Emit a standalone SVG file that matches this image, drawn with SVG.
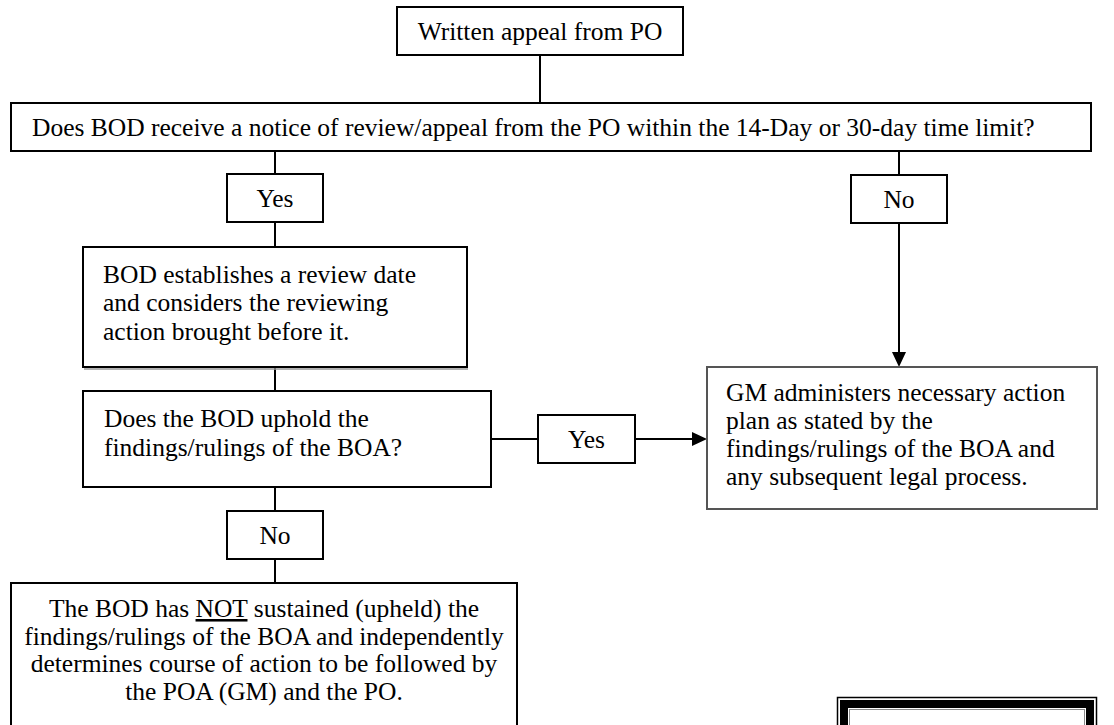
<svg xmlns="http://www.w3.org/2000/svg" width="1114" height="725" viewBox="0 0 1114 725">
<defs>
<style>
.box{fill:#fff;stroke:#000;stroke-width:2}
.gbox{fill:#fff;stroke:#555;stroke-width:2}
.t{font-family:"Liberation Serif","Times New Roman",serif;font-size:25.5px;fill:#000}
.c{text-anchor:middle}
.ln{stroke:#000;stroke-width:2;fill:none}
</style>
</defs>
<rect width="1114" height="725" fill="#fff"/>
<g id="connectors">
<line class="ln" x1="540" y1="55" x2="540" y2="103"/>
<line class="ln" x1="275" y1="151" x2="275" y2="174"/>
<line class="ln" x1="275" y1="222" x2="275" y2="247"/>
<line class="ln" x1="275" y1="367" x2="275" y2="391"/>
<line class="ln" x1="275" y1="487" x2="275" y2="511"/>
<line class="ln" x1="275" y1="559" x2="275" y2="583"/>
<line class="ln" x1="491" y1="439" x2="538" y2="439"/>
<path class="ln" d="M635,439 H692"/>
<path d="M692,432 L707,439 L692,446 z" fill="#000"/>
<line class="ln" x1="899" y1="151" x2="899" y2="175"/>
<path class="ln" d="M899,223 V352"/>
<path d="M892,352 L899,367 L906,352 z" fill="#000"/>
</g>
<g id="n-written">
<rect class="box" x="397" y="7" width="286" height="48"/>
<text class="t c" x="540" y="40">Written appeal from PO</text>
</g>
<g id="n-question">
<rect class="box" x="11" y="103" width="1080" height="48"/>
<text class="t" x="32" y="136">Does BOD receive a notice of review/appeal from the PO within the 14-Day or 30-day time limit?</text>
</g>
<g id="n-yes1">
<rect class="box" x="227" y="174" width="96" height="48"/>
<text class="t c" x="275" y="207">Yes</text>
</g>
<g id="n-no1">
<rect class="box" x="851" y="175" width="96" height="48"/>
<text class="t c" x="899" y="208">No</text>
</g>
<g id="n-bod">
<line x1="84" y1="369" x2="468" y2="369" stroke="#999" stroke-width="1.5"/>
<rect class="box" x="83" y="247" width="384" height="120"/>
<text class="t" x="103" y="283">BOD establishes a review date</text>
<text class="t" x="103" y="311">and considers the reviewing</text>
<text class="t" x="103" y="340">action brought before it.</text>
</g>
<g id="n-uphold">
<rect class="box" x="83" y="391" width="408" height="96"/>
<text class="t" x="104" y="427">Does the BOD uphold the</text>
<text class="t" x="104" y="456">findings/rulings of the BOA?</text>
</g>
<g id="n-yes2">
<rect class="box" x="538" y="415" width="97" height="48"/>
<text class="t c" x="586.5" y="448">Yes</text>
</g>
<g id="n-gm">
<rect class="gbox" x="707" y="367" width="390" height="142"/>
<text class="t" x="726" y="401">GM administers necessary action</text>
<text class="t" x="726" y="429">plan as stated by the</text>
<text class="t" x="726" y="457">findings/rulings of the BOA and</text>
<text class="t" x="726" y="485">any subsequent legal process.</text>
</g>
<g id="n-no2">
<rect class="box" x="227" y="511" width="96" height="48"/>
<text class="t c" x="275" y="544">No</text>
</g>
<g id="n-notsustained">
<rect class="box" x="11" y="583" width="506" height="150"/>
<text class="t c" x="264" y="617">The BOD has <tspan text-decoration="underline">NOT</tspan> sustained (upheld) the</text>
<text class="t c" x="264" y="645">findings/rulings of the BOA and independently</text>
<text class="t c" x="264" y="672">determines course of action to be followed by</text>
<text class="t c" x="264" y="700">the POA (GM) and the PO.</text>
</g>
<g id="n-frame">
<rect x="837.5" y="697.5" width="259" height="40" fill="none" stroke="#000" stroke-width="1.5"/>
<rect x="844" y="704" width="246" height="40" fill="none" stroke="#000" stroke-width="8"/>
<rect x="849.5" y="709.5" width="235" height="40" fill="none" stroke="#888" stroke-width="1"/>
</g>
</svg>
